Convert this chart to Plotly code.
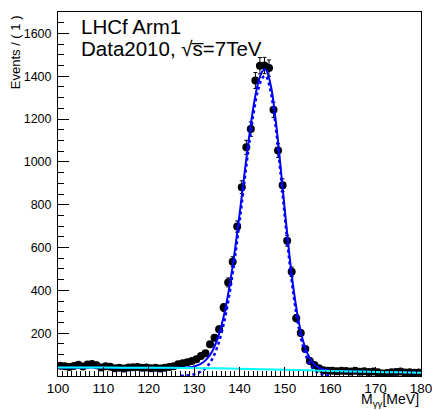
import plotly.graph_objects as go

# ---- data (bin centres, counts) ----
bin_centers = [100.5 + i for i in range(80)]
counts = [48, 45, 42, 47, 52, 44, 54, 56, 50, 40,
          46, 43, 36, 38, 35, 40, 41, 42, 38, 40,
          36, 38, 35, 39, 42, 46, 55, 59, 64, 70,
          78, 93, 106, 148, 179, 218, 320, 437, 534, 698,
          882, 1068, 1153, 1380, 1449, 1450, 1438, 1243, 1053, 891,
          632, 487, 270, 201, 126, 70, 51, 36, 27, 25,
          24, 22, 25, 23, 21, 24, 20, 22, 19, 21,
          18, 12, 14, 18, 19, 21, 16, 17, 15, 16]
errors = [c ** 0.5 for c in counts]

# ---- fit curves ----
bg_x = [100, 105, 110, 115, 120, 125, 130, 135, 140, 145, 150, 155, 160, 165, 170, 175, 180]
bg_y = [40, 40, 39.5, 39, 38.5, 38, 37, 36, 34, 31.5, 29, 26.5, 23.5, 21, 19, 17, 15]

sig_x = [127, 128, 129, 130, 131, 132, 133, 134, 135, 136, 137, 138, 139, 140, 141, 142,
         143, 144, 145, 145.6, 146, 147, 148, 149, 150, 151, 152, 153, 154, 155, 156,
         157, 158, 159, 160]
sig_y = [0.9, 1.9, 4, 7.9, 15, 27.5, 48, 80, 129, 198, 291, 411, 555, 719, 894, 1064,
         1214, 1328, 1391, 1402, 1395, 1315, 1161, 959, 742, 537, 365, 232, 138, 77, 40,
         19.6, 9, 3.8, 1.5]

tot_x = [100, 105, 110, 115, 120, 125, 127, 128, 129, 130, 131, 132, 133, 134, 135, 136,
         137, 138, 139, 140, 141, 142, 143, 144, 145, 145.6, 146, 147, 148, 149, 150, 151,
         152, 153, 154, 155, 156, 157, 158, 159, 160, 165, 170, 175, 180]
tot_y = [40, 40, 39.5, 39, 38.5, 38, 38.5, 39.3, 41.2, 44.9, 51.9, 64.1, 84.4, 116, 165, 234,
         326, 446, 589, 753, 928, 1097, 1247, 1360, 1422, 1433, 1426, 1346, 1191, 989, 771, 566,
         393, 260, 165, 104, 66, 45, 34, 28, 25, 21, 19, 17, 15]

y_tickvals = [200, 400, 600, 800, 1000, 1200, 1400, 1600]
x_tickvals = [100, 110, 120, 130, 140, 150, 160, 170, 180]

FONT = "Liberation Sans, Arial, Helvetica, sans-serif"

fig = go.Figure()

fig.add_trace(go.Scatter(
    x=bin_centers, y=counts, mode="markers",
    marker=dict(color="black", size=8),
    error_y=dict(type="data", array=errors, color="black", thickness=1, width=2),
    error_x=dict(type="constant", value=0.5, color="black", thickness=1, width=0),
    showlegend=False, hoverinfo="skip"))

fig.add_trace(go.Scatter(
    x=tot_x, y=tot_y, mode="lines", line=dict(color="#0000ff", width=2, shape="spline"),
    showlegend=False, hoverinfo="skip"))

fig.add_trace(go.Scatter(
    x=sig_x, y=sig_y, mode="lines", line=dict(color="#0000ff", width=2.5, dash="dot", shape="spline"),
    showlegend=False, hoverinfo="skip"))

fig.add_trace(go.Scatter(
    x=bg_x, y=bg_y, mode="lines", line=dict(color="#00ffff", width=2, shape="spline"),
    showlegend=False, hoverinfo="skip"))

fig.update_layout(
    width=432, height=410,
    margin=dict(l=58, r=11, t=12, b=34, autoexpand=False),
    paper_bgcolor="white", plot_bgcolor="white",
    font=dict(family=FONT, color="black"),
    xaxis=dict(range=[100, 180], tickvals=x_tickvals, ticks="inside", ticklen=9,
               tickwidth=1, tickcolor="black", showline=True, linecolor="black",
               linewidth=1, mirror=True, showgrid=False, zeroline=False,
               tickfont=dict(size=13.5, family=FONT), automargin=False,
               ticklabeloverflow="allow",
               minor=dict(dtick=1, ticks="inside", ticklen=5, tickcolor="black", showgrid=False)),
    yaxis=dict(range=[0, 1700], tickvals=y_tickvals, ticks="inside", ticklen=11,
               tickwidth=1, tickcolor="black", showline=True, linecolor="black",
               linewidth=1, mirror=True, showgrid=False, zeroline=False,
               tickfont=dict(size=12.5, family=FONT), ticklabelstandoff=3, automargin=False,
               ticklabeloverflow="allow",
               minor=dict(dtick=50, ticks="inside", ticklen=6, tickcolor="black", showgrid=False)),
    annotations=[
        dict(text="LHCf Arm1", xref="paper", yref="paper", x=0.058, y=0.9588,
             xanchor="left", yanchor="middle", showarrow=False,
             font=dict(size=20.5, family=FONT)),
        dict(text="Data2010, √s\u0305=7TeV",
             xref="paper", yref="paper", x=0.058, y=0.9,
             xanchor="left", yanchor="middle", showarrow=False,
             font=dict(size=20.5, family=FONT)),
        dict(text="Events / ( 1 )", xref="paper", yref="paper", x=-0.118, y=0.89,
             xanchor="center", yanchor="middle", textangle=-90, showarrow=False,
             font=dict(size=13, family=FONT)),
        dict(text="M<sub>γγ</sub>[MeV]", xref="paper", yref="paper", x=1.0, y=-0.066,
             xanchor="right", yanchor="middle", showarrow=False,
             font=dict(size=14, family=FONT)),
    ],
)

fig.write_html("out.html", config={"displayModeBar": False},
               post_script="document.body.style.margin='0px';")
